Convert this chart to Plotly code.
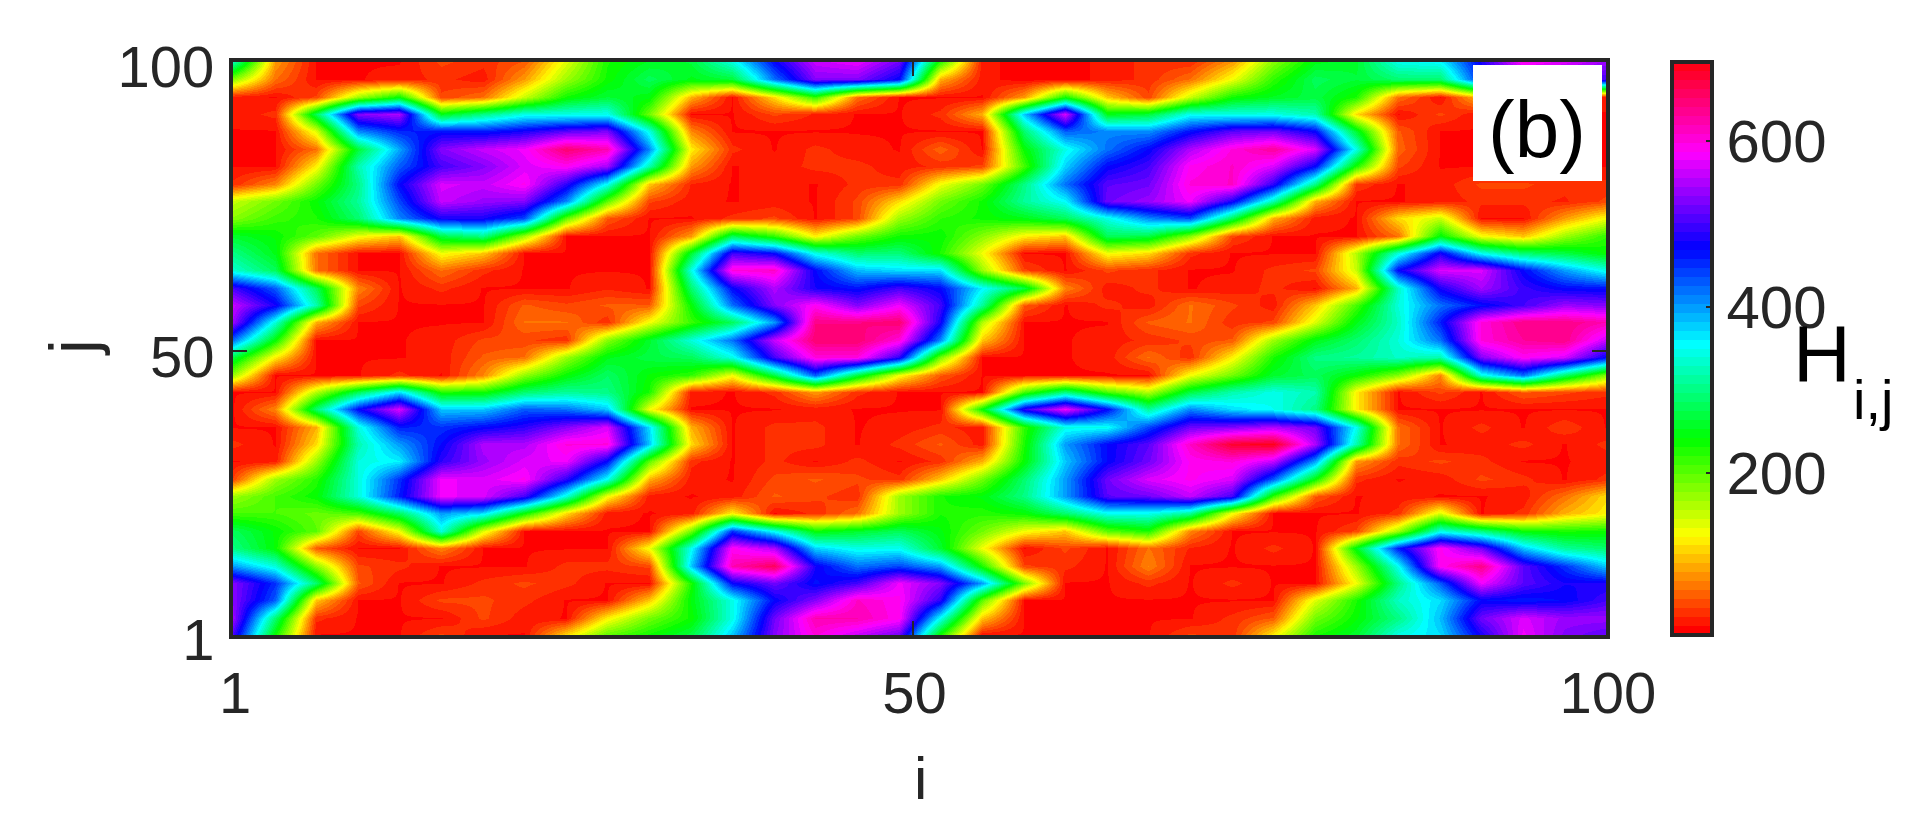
import colorsys
import plotly.graph_objects as go

i_values = [1,4,7,10,13,16,19,22,25,28,31,34,37,40,43,46,49,52,55,58,61,64,67,70,73,76,79,82,85,88,91,94,97,100]
j_values = [100,97,94,91,88,85,82,79,76,73,70,67,64,61,58,55,52,49,46,43,40,37,34,31,28,25,22,19,16,13,10,7,4,1]

H_j100 = [320,80,15,15,15,40,30,50,140,230,255,265,340,470,560,575,520,220,20,10,10,20,30,30,80,180,250,260,345,355,480,590,570,540]
H_j97 = [180,60,15,15,20,30,20,80,170,235,280,250,265,420,530,530,470,90,20,10,10,20,30,60,130,220,280,265,290,290,460,520,520,500]
H_j94 = [20,15,40,170,240,40,60,150,235,265,245,90,15,110,220,60,15,15,15,80,235,100,40,150,235,255,270,230,60,15,100,20,20,20]
H_j91 = [20,30,280,530,550,250,300,345,345,350,190,15,15,40,25,15,15,30,90,380,570,250,265,350,345,345,320,110,15,40,15,15,15,15]
H_j88 = [15,15,140,410,455,465,460,480,510,525,345,70,15,15,15,15,15,15,15,290,430,410,405,465,510,520,470,260,50,15,15,15,15,15]
H_j85 = [15,15,60,265,395,530,560,580,650,620,410,120,30,15,30,20,15,55,15,240,345,420,470,550,600,630,570,345,55,15,15,15,15,15]
H_j82 = [15,15,120,320,430,500,530,570,590,545,320,80,15,20,30,30,20,30,40,210,375,470,500,590,610,570,470,230,40,15,15,15,15,15]
H_j79 = [30,70,190,300,470,570,560,590,490,350,100,25,15,20,15,30,30,130,190,300,420,510,520,600,610,490,300,35,15,20,40,40,30,30]
H_j76 = [150,190,240,310,440,560,540,530,410,200,40,20,15,20,15,40,110,190,235,310,355,520,540,580,480,320,90,15,15,20,30,30,25,40]
H_j73 = [180,215,230,290,410,480,480,440,200,50,15,15,30,40,15,40,170,220,235,250,280,345,410,440,280,90,20,15,110,150,15,15,80,130]
H_j70 = [260,240,200,130,100,270,300,170,15,15,15,80,280,220,120,190,235,240,180,120,100,280,270,180,40,15,15,15,60,245,130,100,170,220]
H_j67 = [300,250,60,15,15,130,100,15,15,15,15,260,500,470,345,290,295,230,130,15,15,130,110,30,15,15,15,160,340,480,350,290,270,240]
H_j64 = [335,280,60,15,15,60,30,15,15,15,15,345,600,610,470,385,370,370,170,40,15,40,30,15,15,30,40,150,470,570,570,470,400,345]
H_j61 = [500,430,280,70,15,30,15,15,15,25,15,290,470,550,480,465,500,470,360,270,70,20,30,15,20,30,15,90,330,480,545,495,470,465]
H_j58 = [560,480,320,40,15,15,15,50,40,50,50,240,420,530,590,530,580,500,310,50,15,30,20,60,40,20,100,210,340,420,465,500,540,530]
H_j55 = [540,340,90,15,15,15,15,60,60,30,130,215,280,400,640,640,650,480,160,15,15,15,50,60,30,40,140,250,330,460,600,640,640,620]
H_j52 = [420,240,15,15,15,20,40,40,30,180,260,340,420,560,650,650,600,410,100,15,15,20,30,40,50,170,250,290,340,420,600,630,640,560]
H_j49 = [270,120,15,15,15,20,50,60,170,250,270,280,345,500,600,600,490,190,15,15,15,20,60,30,120,230,300,310,330,320,530,590,570,470]
H_j46 = [170,15,15,15,30,15,70,175,240,285,240,220,130,270,430,270,130,50,15,15,15,15,15,130,190,260,280,240,180,70,340,420,290,180]
H_j43 = [15,15,160,280,370,230,235,290,310,300,230,20,15,30,80,30,15,15,15,210,300,210,160,270,320,345,320,120,15,40,15,50,40,30]
H_j40 = [15,70,290,470,570,380,380,430,420,380,130,15,15,15,20,15,15,15,240,490,580,470,310,410,370,350,300,120,15,15,15,15,15,15]
H_j37 = [15,15,90,340,460,450,470,490,530,570,370,90,15,30,30,15,20,30,20,220,345,350,440,520,530,550,520,350,60,15,30,15,35,15]
H_j34 = [30,15,110,320,400,470,550,550,600,600,380,110,15,30,30,15,30,50,20,230,400,470,510,610,680,690,550,320,60,15,20,30,15,30]
H_j31 = [15,20,170,340,360,490,540,570,580,470,200,30,15,30,15,30,15,30,90,240,380,470,520,590,600,560,400,80,30,40,30,15,15,20]
H_j28 = [40,170,225,340,450,580,570,590,490,350,90,20,15,40,50,40,30,100,190,290,400,520,570,590,570,430,240,30,15,20,40,30,15,30]
H_j25 = [170,210,240,340,460,580,570,500,340,130,20,15,20,50,40,30,170,230,245,300,400,510,520,560,500,220,50,15,20,15,15,20,60,110]
H_j22 = [210,210,195,210,285,400,370,240,110,20,15,20,120,15,30,60,170,230,225,240,290,350,350,310,130,15,15,15,30,140,15,30,90,120]
H_j19 = [280,240,200,40,130,340,140,15,15,15,15,190,450,350,240,260,280,245,190,130,100,200,230,70,15,15,15,40,170,345,300,240,230,235]
H_j16 = [300,240,50,15,15,70,15,15,15,15,130,350,590,550,375,345,350,260,130,15,40,15,60,25,15,30,15,250,460,590,520,380,310,290]
H_j13 = [400,340,180,40,30,15,15,15,30,30,40,380,620,660,480,420,440,400,230,40,30,15,70,15,15,15,15,170,350,590,640,510,450,380]
H_j10 = [530,450,290,50,15,15,30,40,30,15,15,230,470,520,465,500,580,530,400,190,15,15,30,15,30,15,15,130,300,430,580,510,480,480]
H_j7 = [530,430,100,15,15,40,40,30,15,15,100,245,345,470,530,610,590,490,200,15,15,15,15,15,15,15,140,230,330,370,470,460,470,500]
H_j4 = [540,290,30,15,15,15,40,20,15,120,190,235,345,520,620,620,590,350,100,15,15,15,15,15,30,50,190,240,300,385,520,570,540,540]
H_j1 = [500,235,15,15,15,40,15,15,110,200,235,270,380,530,600,560,520,230,15,15,15,15,15,40,30,120,230,260,345,370,480,580,530,510]

rows_top_down = [H_j100,H_j97,H_j94,H_j91,H_j88,H_j85,H_j82,H_j79,H_j76,H_j73,H_j70,H_j67,H_j64,H_j61,H_j58,H_j55,H_j52,H_j49,H_j46,H_j43,H_j40,H_j37,H_j34,H_j31,H_j28,H_j25,H_j22,H_j19,H_j16,H_j13,H_j10,H_j7,H_j4,H_j1]

x_ticks = [1, 50, 100]
y_ticks = [1, 50, 100]
cb_ticks = [200, 400, 600]
H_MIN, H_MAX = 5, 695

# stepped 64-level hsv colormap
N = 64
cs = []
for n in range(N):
    r, g, b = colorsys.hsv_to_rgb(n / N, 1, 1)
    c = f"rgb({round(r*255)},{round(g*255)},{round(b*255)})"
    cs.append([n / N, c])
    cs.append([(n + 1) / N, c])

INK = "#262626"
FONT = "Liberation Sans"
PAGE_MARGIN = 8  # the page body's own margin
INSET = 2        # half the frame line, which plotly draws outside the plot area
L = 231 - PAGE_MARGIN + INSET
R = 1608 - PAGE_MARGIN - INSET
T = 60 - PAGE_MARGIN + INSET
B = 637 - PAGE_MARGIN - INSET
W, H = 1920 - PAGE_MARGIN, 813 - PAGE_MARGIN

fig = go.Figure(go.Heatmap(
    x=i_values, y=j_values[::-1], z=rows_top_down[::-1],
    zmin=H_MIN, zmax=H_MAX, colorscale=cs, zsmooth="best",
    colorbar=dict(
        thicknessmode="pixels", thickness=40, lenmode="fraction", len=1,
        x=(1672 - PAGE_MARGIN - L) / (R - L), xanchor="left", xpad=0,
        y=0.5, yanchor="middle", ypad=0,
        outlinecolor=INK, outlinewidth=4, borderwidth=0,
        tickvals=cb_ticks, ticks="inside", ticklen=8, tickwidth=2, tickcolor=INK,
        tickfont=dict(family=FONT, size=60, color=INK),
    ),
))

axis = dict(
    showgrid=False, zeroline=False, showline=True, mirror="ticks",
    linecolor=INK, linewidth=4, ticks="inside", ticklen=14, tickwidth=2,
    tickcolor=INK, tickfont=dict(family=FONT, size=58, color=INK),
    range=[1, 100], tickmode="array",
)
fig.update_layout(
    width=W, height=H, autosize=False, paper_bgcolor="white", plot_bgcolor="white",
    margin=dict(l=L, r=W - R, t=T, b=H - B),
    xaxis=dict(axis, tickvals=x_ticks, ticklabelstandoff=4, ticklabelshift=2),
    yaxis=dict(axis, tickvals=y_ticks, ticklabelstandoff=3, ticklabelshift=5),
    font=dict(family=FONT, color=INK),
    shapes=[dict(type="rect", xref="paper", yref="paper", layer="above",
                 x0=(1473 - PAGE_MARGIN - L) / (R - L), x1=(1602 - PAGE_MARGIN - L) / (R - L),
                 y0=(B - (181 - PAGE_MARGIN)) / (B - T), y1=(B - (65 - PAGE_MARGIN)) / (B - T),
                 fillcolor="white", line=dict(width=0))],
)


def px_ann(text, x, y, size, color="black", angle=0):
    fig.add_annotation(text=text, xref="paper", yref="paper",
                       x=(x - PAGE_MARGIN - L) / (R - L), y=(B - (y - PAGE_MARGIN)) / (B - T),
                       xanchor="center", yanchor="middle", showarrow=False,
                       textangle=angle, font=dict(family=FONT, size=size, color=color))


px_ann("(b)", 1537, 129, 80)
px_ann("i", 920, 778, 60, INK)
px_ann("j", 73, 348, 66, INK, -90)
px_ann("H", 1822, 353, 80)
px_ann("i,j", 1873, 400, 56)

fig.write_html("out.html")
